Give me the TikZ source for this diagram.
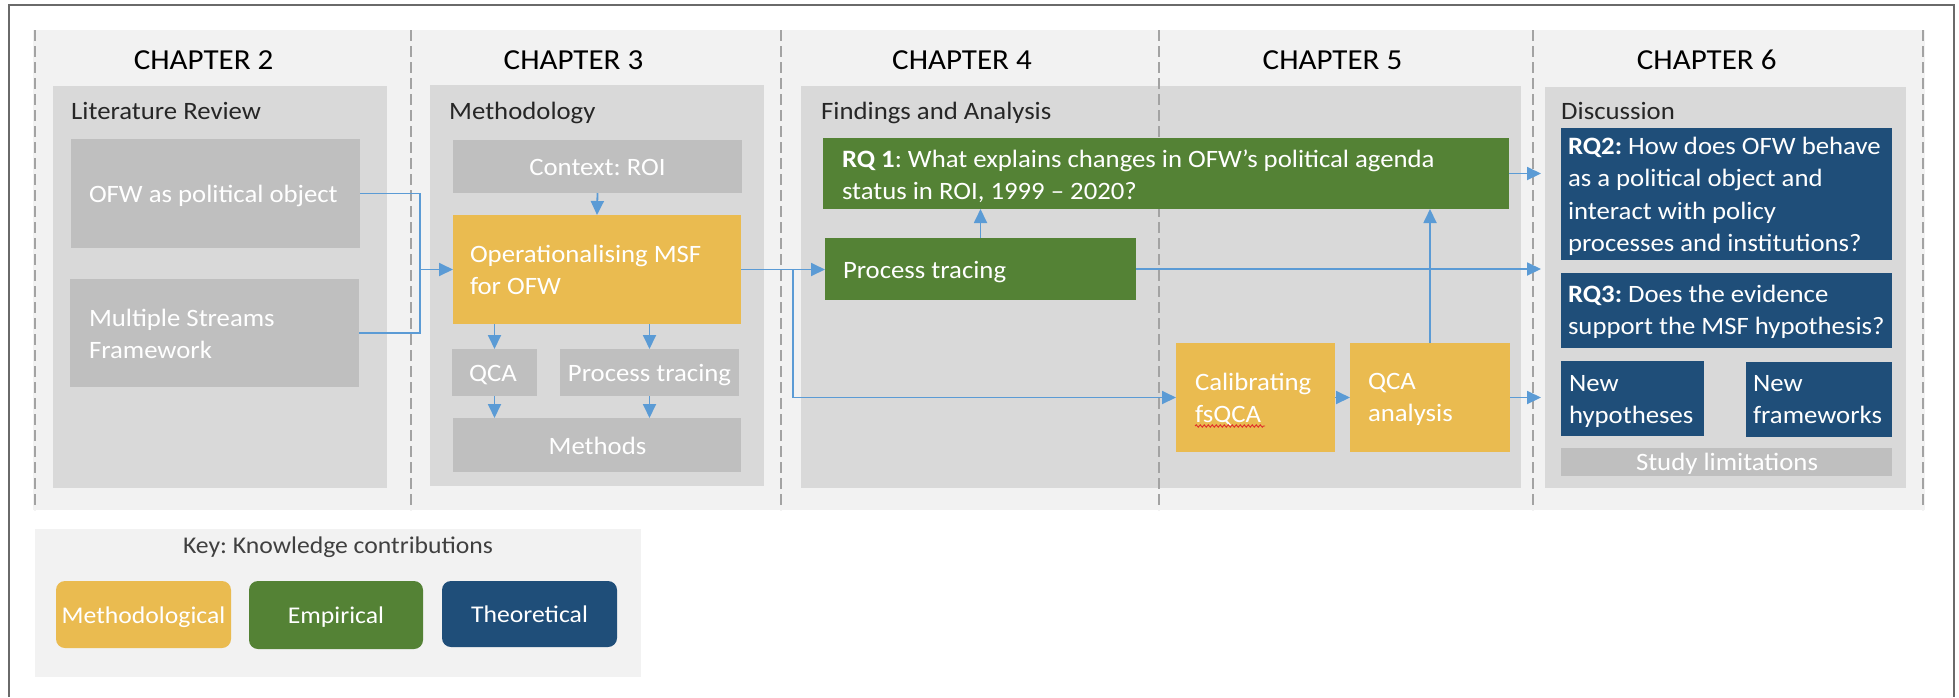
\documentclass[tikz,border=0pt]{standalone}
\usepackage{fontspec}
\setmainfont{Carlito}[FakeStretch=1.07]
\usetikzlibrary{arrows.meta,decorations.pathmorphing}
\definecolor{bandc}{HTML}{F2F2F2}
\definecolor{panelc}{HTML}{D9D9D9}
\definecolor{gboxc}{HTML}{BFBFBF}
\definecolor{goldc}{HTML}{EABB50}
\definecolor{greenc}{HTML}{548235}
\definecolor{navyc}{HTML}{1F4E79}
\definecolor{arrc}{HTML}{5B9BD5}
\definecolor{sepc}{HTML}{A3A3A3}
\definecolor{labc}{HTML}{262626}
\definecolor{keyc}{HTML}{404040}
\definecolor{bordc}{HTML}{6A6A6A}
\definecolor{spellc}{HTML}{E0302A}
\newcommand\ml[1]{\begin{tabular}[t]{@{}l@{}}#1\end{tabular}}
\frenchspacing
\begin{document}
\frenchspacing
\begin{tikzpicture}[x=1pt,y=-1pt,
  rect/.style={draw=none, inner sep=0pt, outer sep=0pt, anchor=north west},
  graybox/.style={rect, fill=gboxc},
  goldbox/.style={rect, fill=goldc},
  greenbox/.style={rect, fill=greenc},
  navybox/.style={rect, fill=navyc},
  panelbox/.style={rect, fill=panelc},
  tx/.style={inner sep=0pt, outer sep=0pt, text=white, font=\fontsize{25}{32.5}\selectfont, anchor=base west},
  txc/.style={tx, anchor=base},
  lbl/.style={inner sep=0pt, text=labc, font=\fontsize{25}{30}\selectfont, anchor=base west},
  chap/.style={inner sep=0pt, text=black, font=\fontsize{29}{34}\selectfont, anchor=base},
  keybox/.style={rect, rounded corners=9pt},
  keytx/.style={inner sep=0pt, text=white, font=\fontsize{24}{30}\selectfont, anchor=base},
  conn/.style={draw=arrc, line width=1.8pt},
  arrow/.style={conn, -{Triangle[length=14pt,width=13pt]}},
  sepline/.style={draw=sepc, line width=1.8pt, dash pattern=on 10.7pt off 5.3pt},
  spell/.style={draw=spellc, line width=0.9pt, decorate, decoration={snake, amplitude=1.2pt, segment length=4pt}}
]
\useasboundingbox (0,0) rectangle (1959,697);
% outer frame
\draw[bordc, line width=2.5pt] (9,697) -- (9,5) -- (1954,5) -- (1954,697);
% band
\fill[bandc] (33,30) rectangle (1925,510);
% panels
\node[panelbox, minimum width=334pt, minimum height=402pt] (p2) at (53,86) {};
\node[panelbox, minimum width=334pt, minimum height=401pt] (p3) at (430,85) {};
\node[panelbox, minimum width=720pt, minimum height=402pt] (p45) at (801,86) {};
\node[panelbox, minimum width=361pt, minimum height=401pt] (p6) at (1545,87) {};
% separators
\foreach \sx in {35,411,781,1159,1533,1923}
  \draw[sepline] (\sx,30) -- (\sx,510);
% chapter titles
\node[chap] (c2) at (203.6,69) {CHAPTER 2};
\node[chap] (c3) at (573.5,69) {CHAPTER 3};
\node[chap] (c4) at (962,69) {CHAPTER 4};
\node[chap] (c5) at (1332.5,69) {CHAPTER 5};
\node[chap] (c6) at (1706.7,69) {CHAPTER 6};
% panel labels
\node[lbl] (l2) at (71,119) {Literature Review};
\node[lbl] (l3) at (449,119) {Methodology};
\node[lbl] (l4) at (821,119) {Findings and Analysis};
\node[lbl] (l6) at (1561,119) {Discussion};
% boxes
\node[graybox, minimum width=289pt, minimum height=109pt] (ofw) at (71,139) {};
\node[graybox, minimum width=289pt, minimum height=108pt] (msf) at (70,279) {};
\node[graybox, minimum width=289pt, minimum height=53pt] (ctx) at (453,140) {};
\node[goldbox, minimum width=288pt, minimum height=109pt] (oper) at (453,215) {};
\node[graybox, minimum width=85pt, minimum height=47pt] (qca) at (452,349) {};
\node[graybox, minimum width=179pt, minimum height=47pt] (pt3) at (560,349) {};
\node[graybox, minimum width=288pt, minimum height=54pt] (meth) at (453,418) {};
\node[greenbox, minimum width=686pt, minimum height=71pt] (rq1) at (823,138) {};
\node[greenbox, minimum width=311pt, minimum height=62pt] (pt4) at (825,238) {};
\node[goldbox, minimum width=159pt, minimum height=109pt] (calib) at (1176,343) {};
\node[goldbox, minimum width=160pt, minimum height=109pt] (qcaan) at (1350,343) {};
\node[navybox, minimum width=331pt, minimum height=132pt] (rq2) at (1561,128) {};
\node[navybox, minimum width=331pt, minimum height=75pt] (rq3) at (1561,273) {};
\node[navybox, minimum width=143pt, minimum height=75pt] (newh) at (1561,361) {};
\node[navybox, minimum width=146pt, minimum height=75pt] (newf) at (1746,362) {};
\node[graybox, minimum width=331pt, minimum height=28pt] (lim) at (1561,448) {};
% box texts
\node[tx] (ofw-t) at (89,202) {OFW as political object};
\node[tx] (msf-t) at (89,326) {\ml{Multiple Streams\\Framework}};
\node[txc] (ctx-t) at (597.5,175) {Context: ROI};
\node[tx] (oper-t) at (470,262) {\ml{Operationalising MSF\\for OFW}};
\node[txc] (qca-t) at (493,381) {QCA};
\node[txc] (pt3-t) at (649.5,381) {Process tracing};
\node[txc] (meth-t) at (597.5,454) {Methods};
\node[tx] (rq1-t) at (842,167) {\ml{\textbf{RQ 1}: What explains changes in OFW’s political agenda\\status in ROI, 1999 – 2020?}};
\node[tx] (pt4-t) at (843,278) {Process tracing};
\node[tx] (calib-t) at (1195,390) {\ml{Calibrating\\fsQCA}};
\node[tx] (qcaan-t) at (1368,389) {\ml{QCA\\analysis}};
\node[tx] (rq2-t) at (1568,154) {\ml{\textbf{RQ2:} How does OFW behave\\as a political object and\\interact with policy\\processes and institutions?}};
\node[tx] (rq3-t) at (1568,302) {\ml{\textbf{RQ3:} Does the evidence\\support the MSF hypothesis?}};
\node[tx] (newh-t) at (1569,391) {\ml{New\\hypotheses}};
\node[tx] (newf-t) at (1753,391) {\ml{New\\frameworks}};
\node[txc] (lim-t) at (1727,470) {Study limitations};
% spell-check squiggle under fsQCA
\draw[spell] (1195,426) -- (1265,426);
% connectors
\coordinate (J) at ([xshift=-33pt]oper.west);
\coordinate (K) at ([xshift=52pt]oper.east);
\coordinate (C6) at (1541,0);
\draw[conn] (ofw.east) -| (J);
\draw[conn] (msf.east) -| (J);
\draw[arrow] (J) -- (oper.west);
\draw[arrow] (ctx.south) -- (oper.north);
\draw[arrow] (oper.south -| qca.north) -- (qca.north);
\draw[arrow] (oper.south -| pt3.north) -- (pt3.north);
\draw[arrow] (qca.south) -- (qca.south |- meth.north);
\draw[arrow] (pt3.south) -- (pt3.south |- meth.north);
\draw[arrow] (oper.east) -- (oper.east -| pt4.west);
\draw[arrow] (K) |- (calib.west);
\draw[arrow] (pt4.north) -- (pt4.north |- rq1.south);
\draw[arrow] (rq1.east) -- (rq1.east -| C6);
\draw[arrow] (pt4.east) -- (pt4.east -| C6);
\draw[arrow] (calib.east) -- (qcaan.west);
\draw[arrow] (qcaan.north) -- (qcaan.north |- rq1.south);
\draw[arrow] (qcaan.east) -- (qcaan.east -| C6);
% key
\node[rect, fill=bandc, minimum width=606pt, minimum height=148pt] (keybg) at (35,529) {};
\node[inner sep=0pt, text=keyc, font=\fontsize{24}{30}\selectfont, anchor=base] (key-t) at (338,553) {Key: Knowledge contributions};
\node[keybox, fill=goldc, minimum width=175pt, minimum height=67pt] (kmeth) at (56,581) {};
\node[keybox, fill=greenc, minimum width=174pt, minimum height=68pt] (kemp) at (249,581) {};
\node[keybox, fill=navyc, minimum width=175pt, minimum height=66pt] (kthe) at (442,581) {};
\node[keytx] (kmeth-t) at (143.5,623) {Methodological};
\node[keytx] (kemp-t) at (336,623) {Empirical};
\node[keytx] (kthe-t) at (529.5,622) {Theoretical};
\end{tikzpicture}
\end{document}
